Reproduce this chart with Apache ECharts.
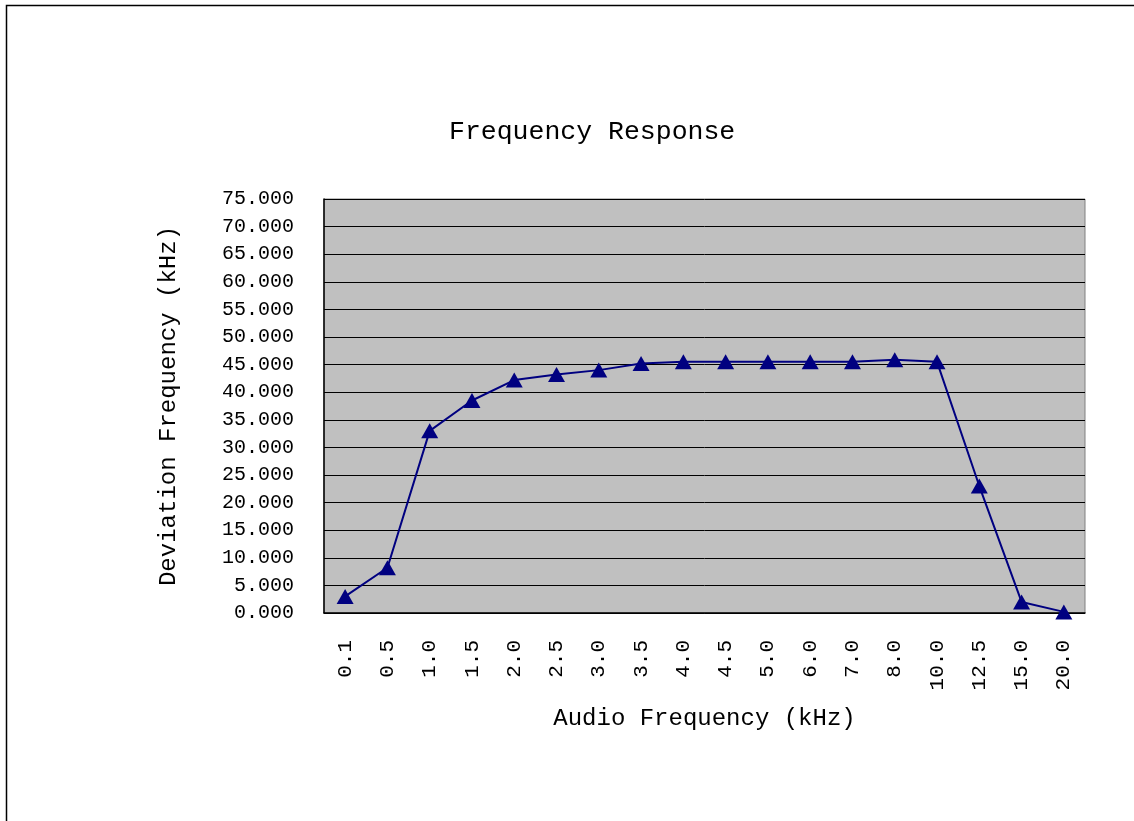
<!DOCTYPE html>
<html>
<head>
<meta charset="utf-8">
<script src="https://cdn.jsdelivr.net/npm/echarts@6/dist/echarts.min.js"></script>
<style>
html,body{margin:0;padding:0;background:#fff;}
#chart{width:1134px;height:821px;}
</style>
</head>
<body>
<div id="chart"></div>
<script>
const titleText = "Frequency Response";
const xAxisName = "Audio Frequency (kHz)";
const yAxisName = "Deviation Frequency (kHz)";
const categories = ["0.1","0.5","1.0","1.5","2.0","2.5","3.0","3.5","4.0","4.5","5.0","6.0","7.0","8.0","10.0","12.5","15.0","20.0"];
const deviation = [3.0, 8.2, 33.0, 38.5, 42.2, 43.2, 44.0, 45.2, 45.5, 45.5, 45.5, 45.5, 45.5, 45.9, 45.5, 23.0, 2.0, 0.2];
const yMin = 0, yMax = 75, yStep = 5;

const font = "'Liberation Mono', 'DejaVu Sans Mono', monospace";
const chart = echarts.init(document.getElementById('chart'), null, {renderer: 'canvas'});
chart.setOption({
  animation: false,
  backgroundColor: '#ffffff',
  graphic: [{
    type: 'rect',
    shape: {x: 6.5, y: 5.5, width: 1400, height: 1000},
    style: {fill: 'none', stroke: '#000', lineWidth: 1.5},
    silent: true
  }],
  title: {
    text: titleText,
    left: 444,
    top: 113,
    textStyle: {fontFamily: font, fontSize: 26.5, fontWeight: 'normal', color: '#000'}
  },
  grid: {
    left: 324, right: 49, top: 199, bottom: 208,
    show: true, backgroundColor: '#c0c0c0', borderColor: '#808080', borderWidth: 1
  },
  xAxis: {
    type: 'category',
    data: categories,
    boundaryGap: true,
    name: xAxisName,
    nameLocation: 'middle',
    nameGap: 94,
    nameTextStyle: {fontFamily: font, fontSize: 24, color: '#000'},
    axisLine: {lineStyle: {color: '#000', width: 1.5}},
    axisTick: {inside: true, length: 6, lineStyle: {color: '#000'}},
    axisLabel: {rotate: 90, margin: 27, fontFamily: font, fontSize: 21, color: '#000', interval: 0},
    splitLine: {show: false}
  },
  yAxis: {
    type: 'value',
    min: yMin, max: yMax, interval: yStep,
    name: yAxisName,
    nameLocation: 'middle',
    nameGap: 143,
    nameTextStyle: {fontFamily: font, fontSize: 24, color: '#000'},
    axisLine: {show: true, lineStyle: {color: '#000', width: 1.5}},
    axisTick: {show: true, inside: true, length: 6, lineStyle: {color: '#000'}},
    axisLabel: {margin: 30, fontFamily: font, fontSize: 20, color: '#000',
      formatter: v => v.toFixed(3)},
    splitLine: {show: true, lineStyle: {color: '#000', width: 1}}
  },
  series: [{
    type: 'line',
    data: deviation,
    symbol: 'triangle',
    symbolSize: [17, 15],
    showAllSymbol: true,
    lineStyle: {color: '#000080', width: 2},
    itemStyle: {color: '#000080'}
  }]
});
</script>
</body>
</html>
